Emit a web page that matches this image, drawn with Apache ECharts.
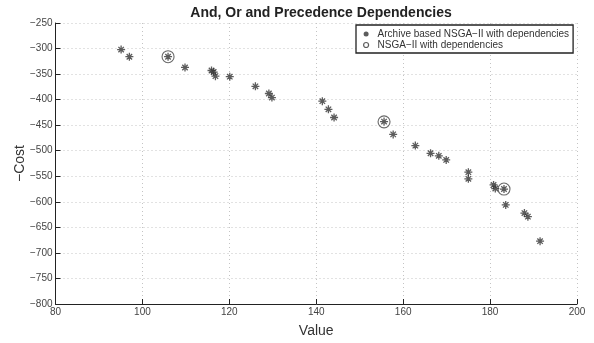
<!DOCTYPE html>
<html>
<head>
<meta charset="utf-8">
<script src="https://cdn.jsdelivr.net/npm/echarts@6/dist/echarts.min.js"></script>
<style>html,body{margin:0;padding:0;background:#fff;}#c{width:594px;height:343px;}</style>
</head>
<body>
<div id="c"></div>
<script>
const archiveX = [95.1, 97.0, 105.9, 109.8, 115.9, 116.4, 116.8, 120.1, 126.0, 129.1, 129.8, 141.4, 142.8, 144.1, 155.6, 157.7, 162.8, 166.3, 168.2, 169.9, 175.0, 175.0, 180.8, 181.2, 183.2, 183.6, 187.9, 188.7, 191.5];
const archiveY = [-302, -316, -316, -337, -343, -346, -354, -355, -374, -388, -396, -403, -419, -435, -443, -468, -490, -505, -510, -518, -542, -555, -567, -574, -575, -606, -622, -629, -677];
const nsgaX = [105.9, 155.6, 183.2];
const nsgaY = [-316, -443.5, -575];
const seriesNames = ['Archive based NSGA\u2212II with dependencies', 'NSGA\u2212II with dependencies'];
const xTicks = {min: 80, max: 200, interval: 20};
const yTicks = {min: -800, max: -250, interval: 50};

const star = 'path://M5,0L5,10M0,5L10,5M1.6,1.6L8.4,8.4M1.6,8.4L8.4,1.6';
const fmt = v => String(v).replace('-', '\u2212');
const chart = echarts.init(document.getElementById('c'), null, {renderer: 'canvas'});
chart.setOption({
  animation: false,
  backgroundColor: '#fff',
  title: {
    text: 'And, Or and Precedence Dependencies',
    left: 316, top: 1, textAlign: 'center',
    textStyle: {fontFamily: 'Liberation Sans, Arial, sans-serif', fontSize: 14, fontWeight: 'bold', color: '#222'}
  },
  grid: {left: 55.5, right: 17, top: 23, bottom: 33},
  legend: {
    orient: 'vertical', left: 356, top: 25,
    backgroundColor: '#fff', borderColor: '#222', borderWidth: 1.3, borderRadius: 0,
    padding: [4, 4, 3, 7], itemGap: 1, itemWidth: 5, itemHeight: 5,
    textStyle: {fontFamily: 'Liberation Sans, Arial, sans-serif', fontSize: 10, color: '#333', padding: [0, 0, 0, 4]},
    data: [
      {name: seriesNames[0], icon: 'circle', itemStyle: {color: '#333', borderWidth: 0}},
      {name: seriesNames[1], icon: 'circle', itemStyle: {color: '#fff', borderColor: '#333', borderWidth: 1.2}}
    ]
  },
  xAxis: {
    type: 'value', min: xTicks.min, max: xTicks.max, interval: xTicks.interval,
    name: 'Value', nameLocation: 'middle', nameGap: 20, nameMoveOverlap: false,
    nameTextStyle: {fontFamily: 'Liberation Sans, Arial, sans-serif', fontSize: 14, color: '#333'},
    axisLine: {show: true, onZero: false, lineStyle: {color: '#222', width: 1}},
    axisTick: {show: true, inside: true, length: 5, lineStyle: {color: '#222'}},
    axisLabel: {fontFamily: 'Liberation Sans, Arial, sans-serif', fontSize: 10, color: '#444', margin: 3},
    splitLine: {show: true, lineStyle: {color: '#c4c4c4', type: [1, 3], width: 1}}
  },
  yAxis: {
    type: 'value', min: yTicks.min, max: yTicks.max, interval: yTicks.interval,
    name: '\u2212Cost', nameLocation: 'middle', nameGap: 28, nameMoveOverlap: false,
    nameTextStyle: {fontFamily: 'Liberation Sans, Arial, sans-serif', fontSize: 14, color: '#333'},
    axisLine: {show: true, onZero: false, lineStyle: {color: '#222', width: 1}},
    axisTick: {show: true, inside: true, length: 5, lineStyle: {color: '#222'}},
    axisLabel: {fontFamily: 'Liberation Sans, Arial, sans-serif', fontSize: 10, color: '#444', margin: 3, formatter: fmt},
    splitLine: {show: true, lineStyle: {color: '#c4c4c4', type: [1, 3], width: 1}}
  },
  series: [
    {
      name: seriesNames[0], type: 'scatter', symbol: star, symbolSize: 8,
      itemStyle: {color: 'rgba(0,0,0,0)', borderColor: '#333', borderWidth: 1.3},
      data: archiveX.map((x, i) => [x, archiveY[i]]), z: 3
    },
    {
      name: seriesNames[1], type: 'scatter', symbol: 'circle', symbolSize: 12,
      itemStyle: {color: 'rgba(0,0,0,0)', borderColor: '#444', borderWidth: 1.1},
      data: nsgaX.map((x, i) => [x, nsgaY[i]]), z: 2
    }
  ]
});
</script>
</body>
</html>
